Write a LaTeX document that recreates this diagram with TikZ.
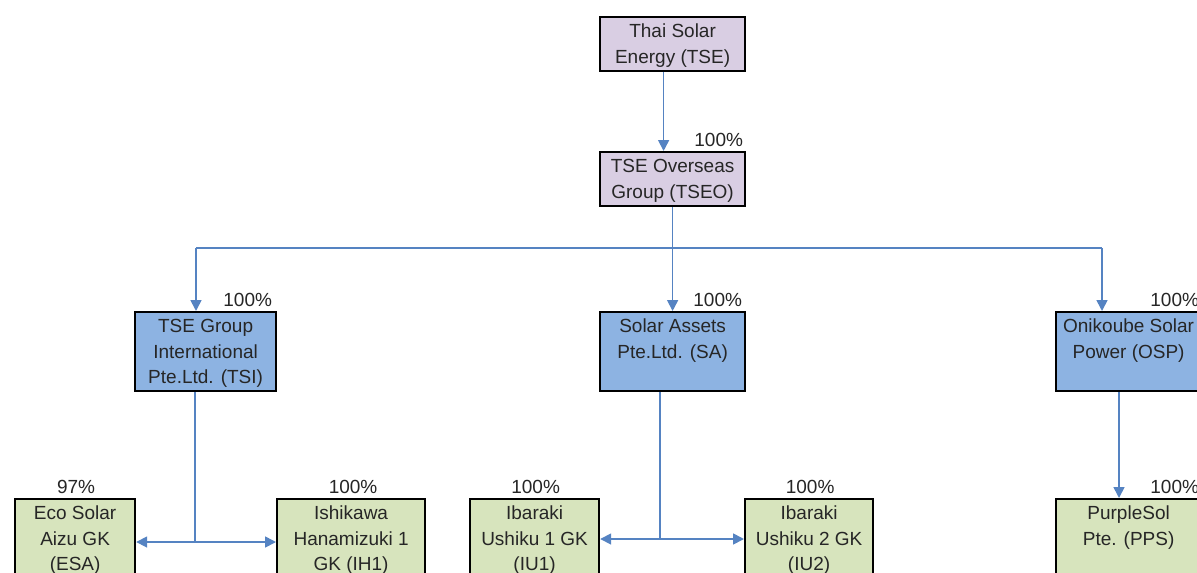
\documentclass[tikz,border=0pt]{standalone}
\usepackage{fontspec}
\setmainfont{Liberation Sans}
\usetikzlibrary{arrows.meta}
\definecolor{purp}{HTML}{D9CEE3}
\definecolor{bluef}{HTML}{8DB3E2}
\definecolor{greenf}{HTML}{D7E4BD}
\definecolor{conn}{HTML}{5583C2}
\definecolor{txt}{HTML}{262626}
\newcommand\bxt[3]{\parbox[t][#2pt][t]{#1pt}{\centering\vspace*{3pt}\strut#3}}
\begin{document}
\begin{tikzpicture}[x=1pt,y=-1pt,
  font=\fontsize{19}{25.5}\selectfont,
  orgbox/.style={draw=black, line width=2.2pt, inner sep=0pt, anchor=north west, text=txt},
  purpbox/.style={orgbox, fill=purp},
  bluebox/.style={orgbox, fill=bluef},
  greenbox/.style={orgbox, fill=greenf},
  pct/.style={text=txt, inner sep=0pt},
  link/.style={draw=conn, line width=1.7pt},
  arr/.style={link, -{Triangle[length=11pt,width=11pt]}},
  dbl/.style={link, {Triangle[length=11pt,width=11pt]}-{Triangle[length=11pt,width=11pt]}}
]
\useasboundingbox (0,0) rectangle (1197,573);
\clip (0,0) rectangle (1197,573);
\fill[white] (0,0) rectangle (1197,573);

% boxes
\node[purpbox] (tse) at (599,16) {\bxt{145}{54}{Thai Solar\\Energy (TSE)}};
\node[purpbox] (tseo) at (599,151) {\bxt{145}{54}{TSE Overseas\\Group (TSEO)}};
\node[bluebox] (tsi) at (134,311) {\bxt{141}{79}{TSE Group\\International\\Pte.Ltd. (TSI)}};
\node[bluebox] (sa) at (599,311) {\bxt{145}{79}{Solar Assets\\Pte.Ltd. (SA)}};
\node[bluebox] (osp) at (1055,311) {\bxt{145}{79}{Onikoube Solar\\Power (OSP)}};
\node[greenbox] (esa) at (14,498) {\bxt{120}{100}{Eco Solar\\Aizu GK\\(ESA)}};
\node[greenbox] (ih1) at (276,498) {\bxt{148}{100}{Ishikawa\\Hanamizuki 1\\GK (IH1)}};
\node[greenbox] (iu1) at (469,498) {\bxt{129}{100}{Ibaraki\\Ushiku 1 GK\\(IU1)}};
\node[greenbox] (iu2) at (744,498) {\bxt{128}{100}{Ibaraki\\Ushiku 2 GK\\(IU2)}};
\node[greenbox] (pps) at (1055,498) {\bxt{145}{100}{PurpleSol\\Pte. (PPS)}};

% percentages
\node[pct, anchor=base east] (ptseo) at ([shift={(-3,-5)}]tseo.north east) {100\%};
\node[pct, anchor=base east] (ptsi) at ([shift={(-5,-5)}]tsi.north east) {100\%};
\node[pct, anchor=base east] (psa) at ([shift={(-4,-5)}]sa.north east) {100\%};
\node[pct, anchor=base east] (posp) at ([shift={(-3,-5)}]osp.north east) {100\%};
\node[pct, anchor=base] (pesa) at ([shift={(1,-5)}]esa.north) {97\%};
\node[pct, anchor=base] (pih1) at ([shift={(2,-5)}]ih1.north) {100\%};
\node[pct, anchor=base] (piu1) at ([shift={(1,-5)}]iu1.north) {100\%};
\node[pct, anchor=base] (piu2) at ([shift={(1,-5)}]iu2.north) {100\%};
\node[pct, anchor=base east] (ppps) at ([shift={(-3,-5)}]pps.north east) {100\%};

% connectors
\draw[arr] ([xshift=-9pt]tse.south) -- ([xshift=-9pt]tseo.north);
\coordinate (bL) at (196,248);
\coordinate (bR) at (1102,248);
\draw[link] (bL) -- (bR);
\draw[link] (tseo.south) -- (tseo.south |- bL);
\draw[arr] (bL) -- (bL |- tsi.north);
\draw[arr] (tseo.south |- bL) -- (sa.north);
\draw[arr] (bR) -- (bR |- osp.north);

\coordinate (j1) at (195,542);
\draw[link] (j1 |- tsi.south) -- (j1);
\draw[dbl] (esa.east |- j1) -- (ih1.west |- j1);

\coordinate (j2) at (660,539);
\draw[link] (j2 |- sa.south) -- (j2);
\draw[dbl] (iu1.east |- j2) -- (iu2.west |- j2);

\coordinate (j3) at (1119,450);
\draw[arr] (j3 |- osp.south) -- (j3 |- pps.north);
\end{tikzpicture}
\end{document}
